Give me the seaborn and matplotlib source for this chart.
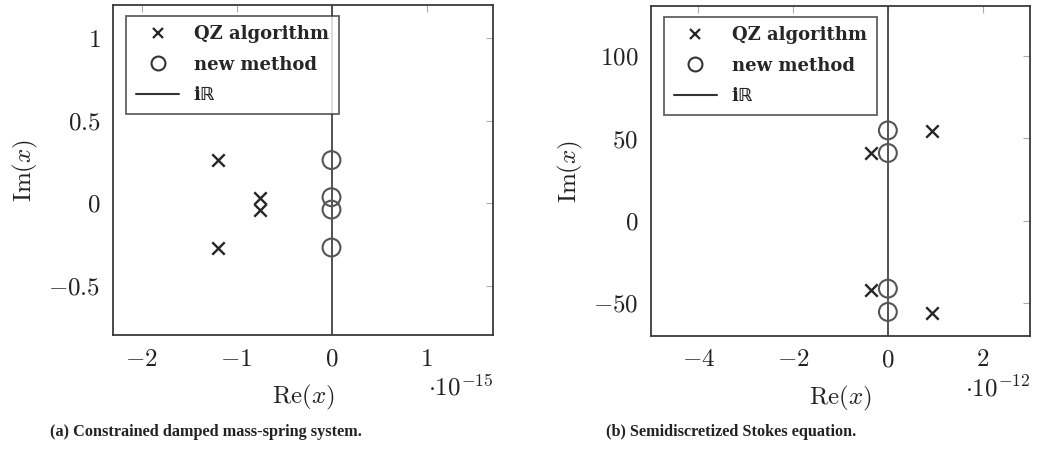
import numpy as np
import pandas as pd
import matplotlib
matplotlib.use("Agg")
import matplotlib.pyplot as plt
import seaborn as sns
from matplotlib.ticker import FuncFormatter
from matplotlib.lines import Line2D

sns.set_theme(style="white")
plt.rcParams['mathtext.fontset'] = 'cm'
plt.rcParams['font.family'] = ['DejaVu Serif', 'DejaVu Sans']

# Panel (a): constrained damped mass-spring system (Re in units of 1e-15)
a_qz_re = [-1.19, -1.19, -0.75, -0.75]
a_qz_im = [0.26, -0.275, 0.03, -0.04]
a_new_re = [0.0, 0.0, 0.0, 0.0]
a_new_im = [0.26, 0.035, -0.04, -0.27]
a_xticks = [-2, -1, 0, 1]
a_yticks = [-0.5, 0, 0.5, 1]

# Panel (b): semidiscretized Stokes equation (Re in units of 1e-12)
b_qz_re = [-0.35, 0.94, -0.35, 0.94]
b_qz_im = [40.7, 54.0, -42.0, -56.0]
b_new_re = [0.0, 0.0, 0.0, 0.0]
b_new_im = [54.6, 40.9, -41.3, -55.4]
b_xticks = [-4, -2, 0, 2]
b_yticks = [-50, 0, 50, 100]

legend_labels = ['QZ algorithm', 'new method', 'iℝ']

fig = plt.figure(figsize=(10.46, 4.57), dpi=100)
ax1 = fig.add_axes([113/1046, 1-335/457, 380/1046, 330/457])
ax2 = fig.add_axes([651/1046, 1-336/457, 379/1046, 330/457])

def fmt(v, pos):
    return f"${v:g}$"

cross_col = '#262626'
circ_col = '#555555'
spine_col = '#3a3a3a'

def panel(ax, qre, qim, nre, nim, xlim, ylim, xt, yt, expo, caption, cap_x):
    ax.axvline(0, color='#444444', lw=1.3, zorder=1)
    dq = pd.DataFrame({'re': qre, 'im': qim})
    dn = pd.DataFrame({'re': nre, 'im': nim})
    sns.scatterplot(data=dq, x='re', y='im', ax=ax, marker='x', s=80,
                    color=cross_col, linewidth=1.7, zorder=3)
    sns.scatterplot(data=dn, x='re', y='im', ax=ax, marker='o', s=165,
                    facecolor='none', edgecolor=circ_col, linewidth=1.5, zorder=3)
    ax.set_xlim(*xlim)
    ax.set_ylim(*ylim)
    ax.set_xticks(xt)
    ax.set_yticks(yt)
    ax.xaxis.set_major_formatter(FuncFormatter(fmt))
    ax.yaxis.set_major_formatter(FuncFormatter(fmt))
    ax.tick_params(direction='in', length=5, width=0.8, color='#aaaaaa',
                   top=True, right=True, labelsize=18, pad=9, labelcolor='#222222')
    for sp in ax.spines.values():
        sp.set_color(spine_col)
        sp.set_linewidth(1.3)
    ax.set_xlabel(r'$\mathrm{Re}(x)$', fontsize=18, color='#222222', labelpad=9)
    ax.set_ylabel(r'$\mathrm{Im}(x)$', fontsize=18, color='#222222', labelpad=6)
    ax.text(1.0, -0.12, r'$\cdot 10^{' + expo + '}$', transform=ax.transAxes,
            ha='right', va='top', fontsize=18, color='#222222')
    handles = [
        Line2D([], [], ls='none', marker='x', color=cross_col, markersize=7.5, mew=1.6),
        Line2D([], [], ls='none', marker='o', mfc='none', mec='#333333', markersize=10, mew=1.5),
        Line2D([], [], color='#333333', lw=1.5),
    ]
    leg = ax.legend(handles, legend_labels,
                    loc='upper left', bbox_to_anchor=(0.034, 0.968),
                    frameon=True, fancybox=False, edgecolor=spine_col,
                    prop={'family': ['DejaVu Serif', 'DejaVu Sans'], 'weight': 'bold', 'size': 13},
                    handlelength=2.4, handletextpad=0.8, labelspacing=0.68,
                    borderpad=0.55, borderaxespad=0)
    leg.get_frame().set_linewidth(1.3)
    leg.set_zorder(5)
    fig.text(cap_x / 1046, 1 - 432 / 457, caption, ha='center', va='center',
             fontsize=11.7, fontweight='bold', color='#222222', family='Liberation Serif')

panel(ax1, a_qz_re, a_qz_im, a_new_re, a_new_im, (-2.3, 1.7), (-0.8, 1.2),
      a_xticks, a_yticks, '-15', '(a) Constrained damped mass-spring system.', 206)
panel(ax2, b_qz_re, b_qz_im, b_new_re, b_new_im, (-5, 3), (-70, 130),
      b_xticks, b_yticks, '-12', '(b) Semidiscretized Stokes equation.', 731)

fig.savefig('out.png', dpi=100)
